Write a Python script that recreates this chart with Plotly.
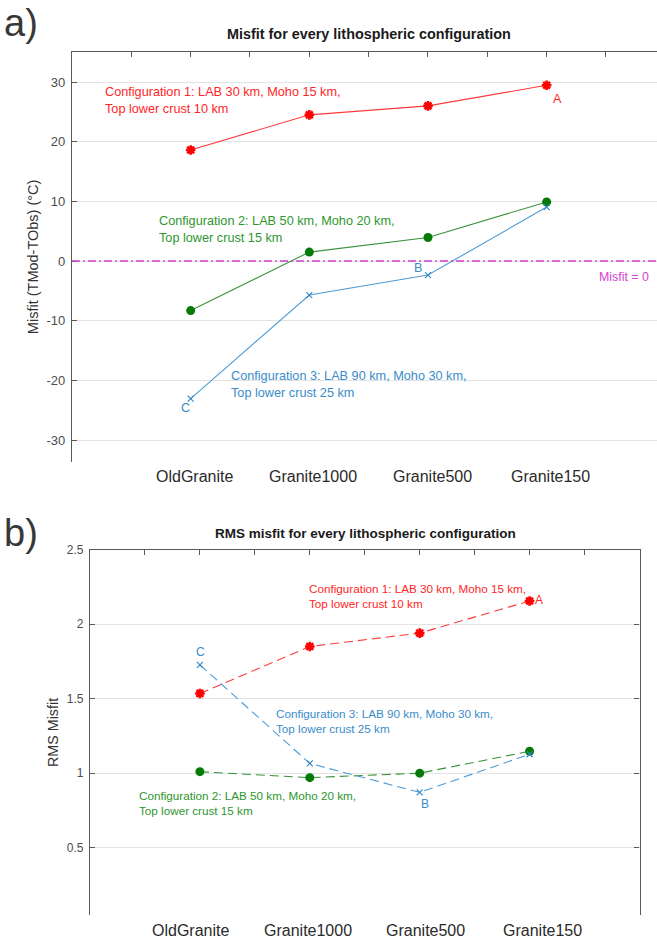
import plotly.graph_objects as go

# ---------------------------------------------------------------------------
# Data
# ---------------------------------------------------------------------------
CATEGORIES = ["OldGranite", "Granite1000", "Granite500", "Granite150"]

# Mean misfit TMod - TObs (°C) for each granite model
MISFIT_CONF1 = [18.6, 24.5, 26.0, 29.45]
MISFIT_CONF2 = [-8.3, 1.5, 3.95, 9.9]
MISFIT_CONF3 = [-23.05, -5.7, -2.35, 9.05]

# RMS misfit for each granite model
RMS_CONF1 = [1.535, 1.85, 1.94, 2.155]
RMS_CONF2 = [1.01, 0.97, 1.0, 1.147]
RMS_CONF3 = [1.727, 1.065, 0.871, 1.127]

CONFIG_TEXT = [
    "Configuration 1: LAB 30 km, Moho 15 km,<br>Top lower crust 10 km",
    "Configuration 2: LAB 50 km, Moho 20 km,<br>Top lower crust 15 km",
    "Configuration 3: LAB 90 km, Moho 30 km,<br>Top lower crust 25 km",
]

MISFIT_TICKS = [-30, -20, -10, 0, 10, 20, 30]
RMS_TICKS = [0.5, 1, 1.5, 2, 2.5]
TOP_TICKS = [0.5, 1.0, 1.5, 2.0, 2.5, 3.0, 3.5, 4.0, 4.5]

# ---------------------------------------------------------------------------
# Styling
# ---------------------------------------------------------------------------
FONT = "Liberation Sans, Arial, Helvetica, sans-serif"
RED, RED_LINE, RED_TXT = "#ff0000", "#ff3a3a", "#ff2626"
GREEN, GREEN_LINE, GREEN_TXT = "#067a06", "#3a933a", "#2e962e"
BLUE, BLUE_LINE, BLUE_TXT = "#2f86c8", "#4d9bd6", "#3a8cca"
MAGENTA, MAGENTA_TXT = "#cc3fcc", "#d444d4"
AXIS_COL = "#5a5a5a"
GRID_COL = "#e3e3e3"

W, H = 657, 940
# plot-area geometry (paper fractions)
DOM_XA = [72 / W, 1.0]
DOM_YA = [1 - 458 / H, 1 - 45.5 / H]
DOM_XB = [90 / W, 639.5 / W]
DOM_YB = [1 - 915 / H, 1 - 546.7 / H]
# horizontal scale used for the category labels under each panel
LABEL_RANGE_A = [-0.028, 4.892]
LABEL_RANGE_B = [0.139, 4.827]

x_pos = [i + 1 for i in range(len(CATEGORIES))]

fig = go.Figure()

series = [
    (MISFIT_CONF1, RMS_CONF1, RED, RED_LINE, dict(symbol="asterisk", size=8, line=dict(color=RED, width=2.6))),
    (MISFIT_CONF2, RMS_CONF2, GREEN, GREEN_LINE, dict(symbol="circle", size=9, line=dict(width=0))),
    (MISFIT_CONF3, RMS_CONF3, BLUE, BLUE_LINE, dict(symbol="x-thin", size=6, line=dict(color=BLUE, width=1.1))),
]

for misfit, rms, mcol, lcol, marker in series:
    fig.add_trace(go.Scatter(
        x=x_pos, y=misfit, mode="lines+markers", xaxis="x", yaxis="y",
        line=dict(color=lcol, width=1.1),
        marker=dict(color=mcol, **marker), showlegend=False, hoverinfo="skip",
    ))
    fig.add_trace(go.Scatter(
        x=x_pos, y=rms, mode="lines+markers", xaxis="x2", yaxis="y2",
        line=dict(color=lcol, width=1.1, dash="9px,5px"),
        marker=dict(color=mcol, **marker), showlegend=False, hoverinfo="skip",
    ))

# Zero-misfit reference line
fig.add_shape(type="line", xref="x domain", yref="y", x0=0, x1=1, y0=0, y1=0,
              line=dict(color=MAGENTA, width=1.4, dash="8px,3px,2px,3px"))

top_axis = dict(side="top", showline=True, linecolor=AXIS_COL, linewidth=1,
                ticks="inside", ticklen=5, tickcolor=AXIS_COL, tickvals=TOP_TICKS,
                showticklabels=False, showgrid=False, zeroline=False, fixedrange=True)
y_common = dict(showline=True, linecolor=AXIS_COL, linewidth=1.2, ticks="inside",
                ticklen=5, tickcolor=AXIS_COL, showgrid=True, gridcolor=GRID_COL,
                gridwidth=1, zeroline=False, ticklabelstandoff=3)

fig.update_layout(
    width=W, height=H, margin=dict(l=0, r=0, t=0, b=0),
    plot_bgcolor="white", paper_bgcolor="white",
    font=dict(family=FONT, color="#333333"),
    xaxis=dict(domain=DOM_XA, range=[0, 4.93], anchor="y", **top_axis),
    yaxis=dict(domain=DOM_YA, range=[-33.6, 35], anchor="x",
               tickvals=MISFIT_TICKS, ticktext=[str(v) for v in MISFIT_TICKS],
               tickfont=dict(family=FONT, size=13, color="#4d4d4d"),
               title=dict(text="Misfit (TMod-TObs) (°C)", standoff=4,
                          font=dict(family=FONT, size=14.5, color="#333333")),
               **y_common),
    xaxis2=dict(domain=DOM_XB, range=[0, 5], anchor="y2", **top_axis),
    yaxis2=dict(domain=DOM_YB, range=[0.047, 2.5], anchor="x2",
                tickvals=RMS_TICKS, mirror="ticks",
                tickfont=dict(family=FONT, size=12, color="#4d4d4d"),
                title=dict(text="RMS Misfit", standoff=4,
                           font=dict(family=FONT, size=14.3, color="#333333")),
                **y_common),
)


def label_x(k, dom, rng):
    """Paper x of category k on a panel's label scale."""
    return dom[0] + (k - rng[0]) / (rng[1] - rng[0]) * (dom[1] - dom[0])


# Category labels below each panel
for k, name in zip(x_pos, CATEGORIES):
    for dom, rng, ylab in ((DOM_XA, LABEL_RANGE_A, 1 - 473 / H), (DOM_XB, LABEL_RANGE_B, 1 - 930 / H)):
        fig.add_annotation(text=name, xref="paper", yref="paper", x=label_x(k, dom, rng), y=ylab,
                           showarrow=False, xanchor="center", yanchor="middle",
                           font=dict(family=FONT, size=16, color="#2a2a2a"))

# Titles and panel letters
fig.add_annotation(text="<b>Misfit for every lithospheric configuration</b>", xref="paper", yref="paper",
                   x=368.5 / W, y=1 - 27 / H, showarrow=False, xanchor="center", yanchor="middle",
                   font=dict(family=FONT, size=14.4, color="#1a1a1a"))
fig.add_annotation(text="<b>RMS misfit for every lithospheric configuration</b>", xref="paper", yref="paper",
                   x=365 / W, y=1 - 530 / H, showarrow=False, xanchor="center", yanchor="middle",
                   font=dict(family=FONT, size=13.5, color="#1a1a1a"))
fig.add_annotation(text="a)", xref="paper", yref="paper", x=2 / W, y=1 - 16 / H, showarrow=False,
                   xanchor="left", yanchor="middle", font=dict(family=FONT, size=38, color="#383838"))
fig.add_annotation(text="b)", xref="paper", yref="paper", x=2 / W, y=1 - 530 / H, showarrow=False,
                   xanchor="left", yanchor="middle", font=dict(family=FONT, size=38, color="#383838"))

# Configuration descriptions, panel a
txt_cols = [RED_TXT, GREEN_TXT, BLUE_TXT]
for text, col, (xv, yv) in zip(CONFIG_TEXT, txt_cols, [(0.26, 26.9), (0.72, 5.33), (1.325, -20.7)]):
    fig.add_annotation(text=text, x=xv, y=yv, xref="x", yref="y", showarrow=False, align="left",
                       xanchor="left", yanchor="middle", font=dict(family=FONT, size=12.7, color=col))
# Configuration descriptions, panel b
for text, col, (xv, yv) in zip(CONFIG_TEXT, txt_cols, [(1.97, 2.19), (0.425, 0.798), (1.676, 1.351)]):
    fig.add_annotation(text=text, x=xv, y=yv, xref="x2", yref="y2", showarrow=False, align="left",
                       xanchor="left", yanchor="middle", font=dict(family=FONT, size=11.7, color=col))

fig.add_annotation(text="Misfit = 0", x=4.65, y=-2.6, xref="x", yref="y", showarrow=False,
                   font=dict(family=FONT, size=12.4, color=MAGENTA_TXT))

# Point tags A, B, C
tags_a = [("A", 4, MISFIT_CONF1[3], RED_TXT, 11, -14),
          ("B", 3, MISFIT_CONF3[2], BLUE_TXT, -10, 7),
          ("C", 1, MISFIT_CONF3[0], BLUE_TXT, -5, -9)]
for t, xi, yv, col, dx, dy in tags_a:
    fig.add_annotation(text=t, x=xi, y=yv, xref="x", yref="y", showarrow=False, xshift=dx, yshift=dy,
                       font=dict(family=FONT, size=12.6, color=col))
tags_b = [("A", 4, RMS_CONF1[3], RED_TXT, 9, 1.5),
          ("B", 3, RMS_CONF3[2], BLUE_TXT, 5, -12),
          ("C", 1, RMS_CONF3[0], BLUE_TXT, 1, 13)]
for t, xi, yv, col, dx, dy in tags_b:
    fig.add_annotation(text=t, x=xi, y=yv, xref="x2", yref="y2", showarrow=False, xshift=dx, yshift=dy,
                       font=dict(family=FONT, size=12, color=col))

fig.write_html("out.html")
